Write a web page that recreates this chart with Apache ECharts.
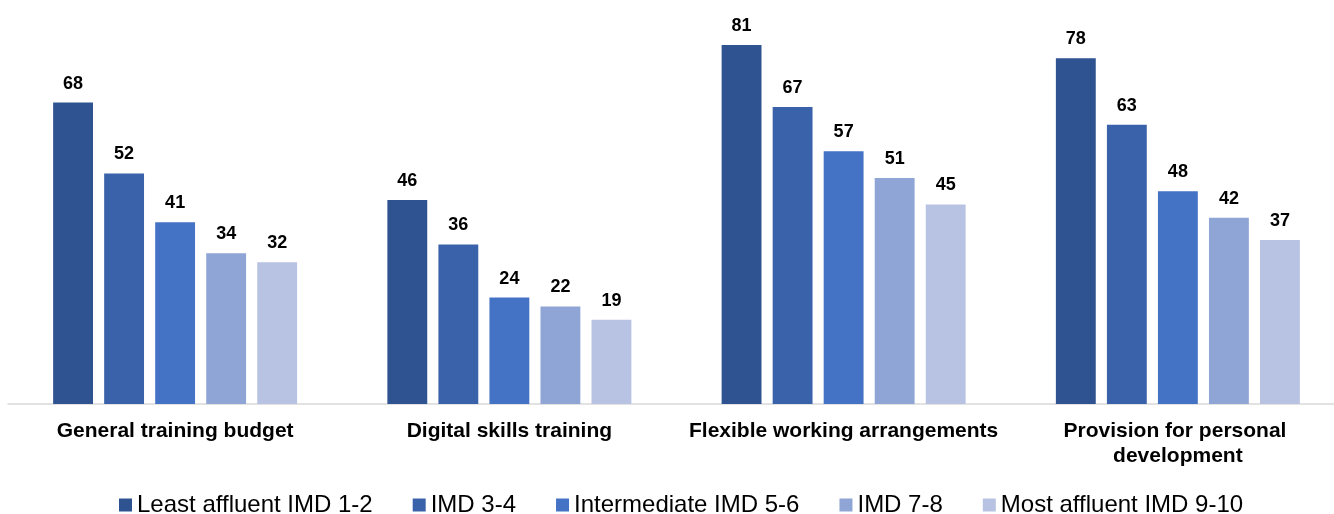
<!DOCTYPE html>
<html>
<head>
<meta charset="utf-8">
<script src="https://cdn.jsdelivr.net/npm/echarts@6/dist/echarts.min.js"></script>
<style>
html,body{margin:0;padding:0;background:#fff;overflow:hidden;}
#chart{width:1345px;height:514px;}
</style>
</head>
<body>
<div id="chart"></div>
<script>
const categories = ["General training budget", "Digital skills training", "Flexible working arrangements", "Provision for personal development"];
const seriesNames = ["Least affluent IMD 1-2", "IMD 3-4", "Intermediate IMD 5-6", "IMD 7-8", "Most affluent IMD 9-10"];
const imd12 = [68, 46, 81, 78];
const imd34 = [52, 36, 67, 63];
const imd56 = [41, 24, 57, 48];
const imd78 = [34, 22, 51, 42];
const imd910 = [32, 19, 45, 37];
const colors = ["#2F5290", "#3A62AA", "#4472C4", "#8FA5D5", "#B8C3E3"];

const values = [imd12, imd34, imd56, imd78, imd910];
const chart = echarts.init(document.getElementById('chart'));
chart.setOption({
  animation: false,
  textStyle: { fontFamily: "Liberation Sans, Arial, sans-serif" },
  grid: { left: 8, top: 5, right: 0, height: 399, containLabel: false },
  legend: {
    top: 493,
    left: 119,
    padding: 0,
    itemWidth: 13,
    itemHeight: 13,
    itemGap: 40,
    icon: 'rect',
    textStyle: { fontSize: 24, color: '#000' },
    data: seriesNames
  },
  xAxis: {
    type: 'category',
    data: categories,
    axisLine: { lineStyle: { color: '#D9D9D9', width: 1.5 } },
    axisTick: { show: false },
    axisLabel: {
      interval: 0,
      color: '#000',
      fontWeight: 'bold',
      fontSize: 21,
      margin: 15,
      lineHeight: 25,
      width: 320,
      overflow: 'break'
    }
  },
  yAxis: {
    type: 'value',
    min: 0,
    max: 90,
    show: false,
    splitLine: { show: false }
  },
  series: values.map((v, i) => ({
    name: seriesNames[i],
    type: 'bar',
    data: v,
    barGap: '28%',
    barCategoryGap: '27%',
    itemStyle: { color: colors[i] },
    label: {
      show: true,
      position: 'top',
      distance: 10,
      color: '#000',
      fontWeight: 'bold',
      fontSize: 18
    }
  }))
});
</script>
</body>
</html>
